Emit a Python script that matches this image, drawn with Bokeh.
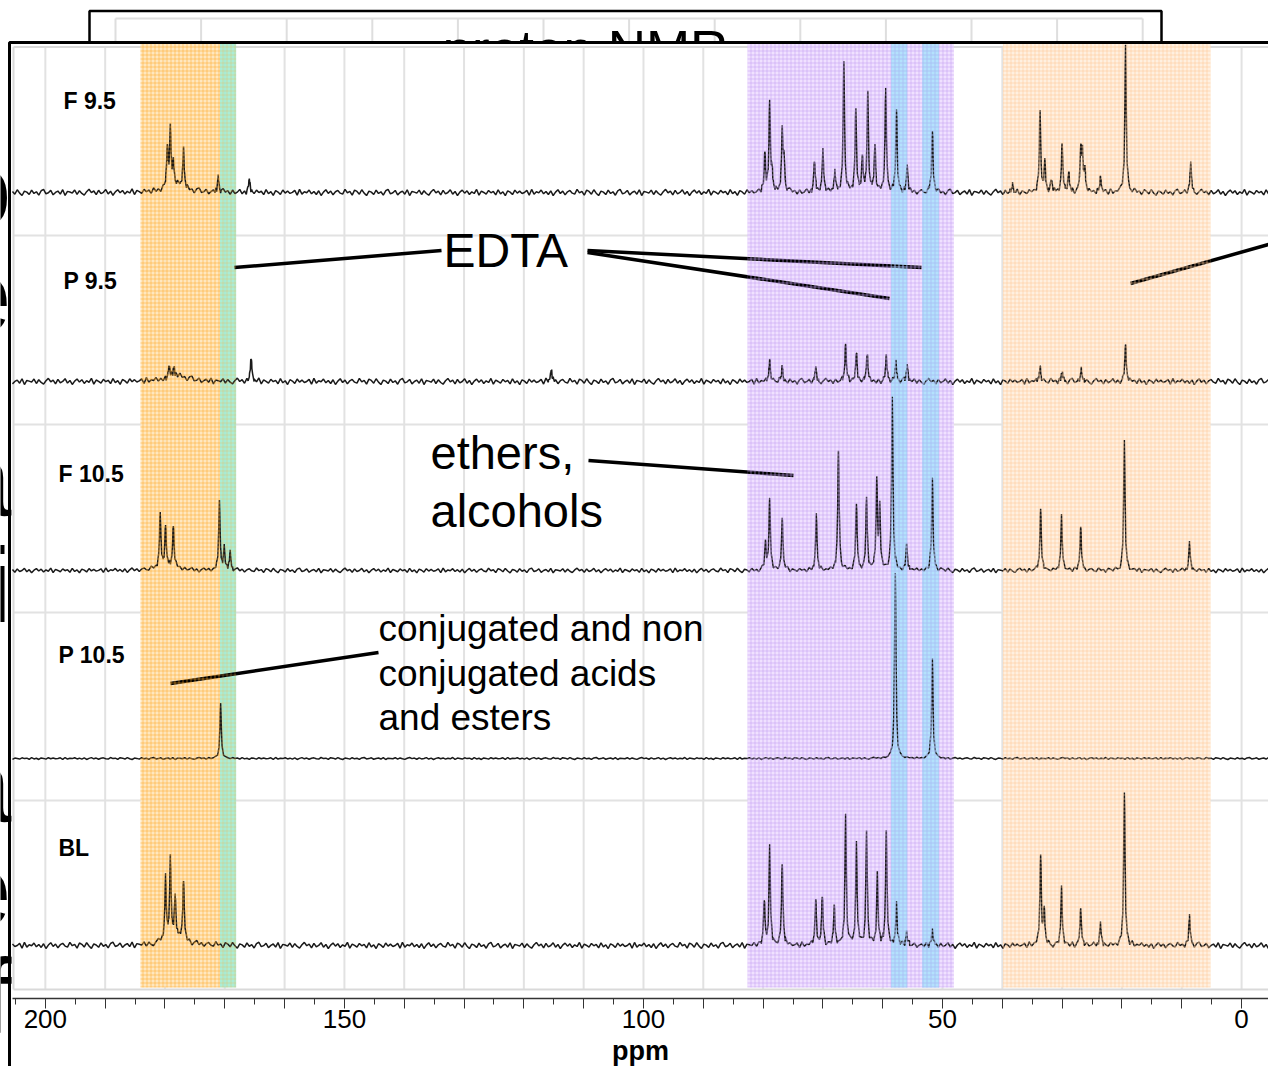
import numpy as np
from bokeh.plotting import figure
from bokeh.models import Range1d, FixedTicker, LinearAxis
from bokeh.core.properties import value
from bokeh.embed import file_html
from bokeh.resources import INLINE

# ---------------- data ----------------
SAMPLES = ["F 9.5", "P 9.5", "F 10.5", "P 10.5", "BL"]
LABELED_TICKS = [200, 150, 100, 50, 0]
MAJOR_TICKS = list(range(0, 201, 10))
MINOR_TICKS = list(range(0, 206, 5))

# peak lists: chemical shift (ppm) and height (px)
F95_PPM = [179.6, 179.1, 178.6, 176.9, 171.1, 165.9,
           79.7, 78.9, 78.5, 76.8, 76.5, 71.4, 70.0, 68.0, 66.5, 64.5, 63.4, 62.5, 61.3, 59.5, 57.7, 55.9, 51.7,
           38.3, 33.7, 32.9, 31.8, 30.0, 28.9, 26.9, 26.6, 26.2, 23.6, 19.4, 8.5]
F95_H = [40, 56, 22, 38, 15, 13,
         39, 90, 17, 59, 30, 32, 41, 19, 129, 83, 34, 97, 46, 102, 84, 26, 63,
         8, 81, 31, 12, 49, 20, 42, 35, 21, 16, 145, 30]
F95_HUMP_PPM = [178.3]
F95_HUMP_H = [7]

P95_PPM = [179.3, 178.5, 165.6, 115.4,
           78.9, 76.8, 71.2, 66.2, 64.4, 62.6, 59.4, 57.8, 55.9,
           33.7, 30.0, 26.8, 19.4]
P95_H = [12, 8, 25, 12,
         22, 15, 14, 38, 30, 28, 25, 20, 16,
         15, 10, 12, 38]
P95_HUMP_PPM = [178.0]
P95_HUMP_H = [6]

F105_PPM = [180.8, 179.9, 178.6, 170.9, 170.1, 169.1,
            79.6, 78.9, 76.8, 71.1, 67.4, 64.4, 62.7, 61.0, 60.5, 58.4, 56.0, 51.7,
            33.6, 30.1, 26.9, 19.6, 8.7]
F105_H = [55, 40, 42, 68, 22, 18,
          28, 72, 52, 55, 120, 68, 72, 88, 60, 173, 25, 92,
          62, 55, 45, 130, 28]
F105_HUMP_PPM = [179.5]
F105_HUMP_H = [4]

P105_PPM = [170.7, 57.9, 51.7]
P105_H = [55, 185, 100]
P105_HUMP_PPM = []
P105_HUMP_H = []

BL_PPM = [179.9, 179.1, 178.3, 176.9,
          79.8, 78.9, 76.8, 71.2, 70.1, 68.1, 66.2, 64.4, 62.7, 60.9, 59.4, 57.7, 56.0, 51.7,
          33.6, 33.0, 30.1, 26.9, 23.6, 19.6, 8.7]
BL_H = [62, 78, 40, 60,
        45, 98, 82, 45, 50, 38, 128, 100, 112, 70, 113, 40, 12, 15,
        92, 35, 58, 38, 22, 155, 30]
BL_HUMP_PPM = [178.3]
BL_HUMP_H = [8]

# hand-read baseline wiggle pattern (relative units)
NOISE = [0.3, -0.5, 0.8, -0.2, -0.9, 0.4, 0.1, -0.6, 0.7, -0.3, 0.2, -0.8, 0.5, 0.9, -0.4, -0.1, 0.6, -0.7,
         0.0, 0.4, -0.5, 0.8, -0.9, 0.3, 0.1, -0.2, 0.7, -0.6, 0.5, -0.3, -0.8, 0.2, 0.9, -0.1, 0.4, -0.7,
         0.6, -0.4, 0.0, 0.8, -0.5, 0.3, -0.9, 0.1, 0.7, -0.2, 0.5, -0.6, 0.2, -0.3, 0.9, -0.8, 0.4, 0.0,
         -0.5, 0.6, -0.1, 0.3, -0.7, 0.8, -0.4, 0.2, -0.9, 0.5, 0.1, -0.6, 0.7, -0.2, 0.4, -0.3, 0.0, 0.6,
         -0.8, 0.9, -0.5, 0.2, -0.1, 0.7, -0.4, 0.3, -0.6, 0.5, -0.9, 0.1, 0.8, -0.3, 0.4, -0.7, 0.2, 0.6,
         -0.2, -0.5, 0.9, -0.1, 0.3, -0.8, 0.7]

# shaded assignment regions (ppm from, ppm to, fill, hatch, hatch alpha)
REGIONS = [
    (184.1, 170.8, "#FFE4B8", "#FFA622", 0.5),
    (170.8, 168.1, "#A2EBD2", "#F2B24A", 0.3),
    (82.6, 48.1, "#EEDEFF", "#C4A0F2", 0.55),
    (58.6, 55.9, "#ACE2FC", "#98D6F6", 0.5),
    (53.4, 50.6, "#ACE2FC", "#98D6F6", 0.5),
    (39.9, 5.2, "#FFEEDD", "#FFC894", 0.55),
]

# ---------------- layout helpers ----------------
W, H = 1268, 1066
X0, X1 = 207.5, -4.5


def X(px):
    return X0 - px * (X0 - X1) / W


BASE = [192, 381, 570, 758, 945]
AMP = [3.4, 3.4, 2.6, 1.1, 3.4]
SEPS = [235, 424, 612, 800]

p = figure(width=W, height=H, x_range=Range1d(X0, X1), y_range=Range1d(H, 0),
           x_axis_type=None, y_axis_type=None, toolbar_location=None,
           output_backend="svg", min_border=0, outline_line_color=None)
p.background_fill_color = "white"
p.border_fill_color = "white"

FONT = value("Liberation Sans")

# ---- background slide box (partly hidden) ----
back_grid = [115 + i * 85.6 for i in range(13)]
p.segment(x0=[X(v) for v in back_grid], y0=[18] * 13, x1=[X(v) for v in back_grid], y1=[60] * 13,
          line_color="#dedede", line_width=2)
p.segment(x0=[X(115)], y0=[18], x1=[X(1142)], y1=[18], line_color="#dedede", line_width=2)
p.text(x=[X(585)], y=[49], text=["proton NMR"], text_font=FONT, text_font_size="53px",
       text_align="center", text_baseline="middle", text_color="black")
p.line(x=[X(89), X(89), X(1161), X(1161)], y=[60, 10.5, 10.5, 60], line_color="black", line_width=2.5)

# main white panel hiding the slide behind
p.quad(left=[X(9)], right=[X(1280)], top=[42], bottom=[H + 5], fill_color="white", line_color=None)

# letters of slide text peeking out on the left
p.text(x=[X(11)] * 7, y=[189, 295, 479, 585, 785, 889, 996], text=["o", "e", "a", "i", "a", "e", "f"],
       text_font=FONT, text_font_size="105px", text_align="right", text_baseline="middle",
       text_color="black")

# ---- plot-area grid ----
p.segment(x0=MAJOR_TICKS, y0=[47] * len(MAJOR_TICKS), x1=MAJOR_TICKS, y1=[989] * len(MAJOR_TICKS),
          line_color="#e2e2e2", line_width=2)
p.segment(x0=[X(13)] * len(SEPS), y0=SEPS, x1=[X(1275)] * len(SEPS), y1=SEPS,
          line_color="#e2e2e2", line_width=2)
p.segment(x0=[X(13), X(13), X(13)], y0=[46.5, 989, 46.5], x1=[X(1275), X(1275), X(13)], y1=[46.5, 989, 989],
          line_color="#d9d9d9", line_width=2)

# ---- shaded regions (fill under the traces) ----
for a, b, fc, hc, ha in REGIONS:
    p.quad(left=[a], right=[b], top=[43], bottom=[987], fill_color=fc, fill_alpha=0.9,
           line_color=None)


# ---- spectra ----
def spectrum(ppms, hs, hump_p, hump_h, base, amp, shift):
    gw = 0.14
    coarse = np.arange(205.5, -4.51, -0.4)
    fine = []
    for c in ppms:
        fine.extend([c - 0.5, c - 0.26, c - 0.13, c - 0.06, c, c + 0.06, c + 0.13, c + 0.26, c + 0.5])
    x = np.unique(np.concatenate([coarse, np.array(fine)]))[::-1]
    y = np.zeros_like(x)
    for c, h in zip(ppms, hs):
        y += h / (1 + ((x - c) / gw) ** 2)
    for c, h in zip(hump_p, hump_h):
        y += h / (1 + ((x - c) / 2.0) ** 2)
    n = np.array([NOISE[(i + shift) % len(NOISE)] for i in range(len(x))])
    return x, base - y - amp * n


SPECS = [(F95_PPM, F95_H, F95_HUMP_PPM, F95_HUMP_H),
         (P95_PPM, P95_H, P95_HUMP_PPM, P95_HUMP_H),
         (F105_PPM, F105_H, F105_HUMP_PPM, F105_HUMP_H),
         (P105_PPM, P105_H, P105_HUMP_PPM, P105_HUMP_H),
         (BL_PPM, BL_H, BL_HUMP_PPM, BL_HUMP_H)]
for k, (pp, hh, hp, hhh) in enumerate(SPECS):
    xs, ys = spectrum(pp, hh, hp, hhh, BASE[k], AMP[k], 17 * k)
    p.line(xs, ys, line_color="#1a1a1a", line_width=1.5)

# ---- annotation leader lines ----
LEADERS = [((234, 267), (441, 250)), ((587, 250), (921, 267)), ((587, 252), (889, 298)),
           ((1130, 283), (1275, 242)), ((588, 460), (793, 475)), ((170, 683), (378, 652))]
p.segment(x0=[X(a[0]) for a, b in LEADERS], y0=[a[1] for a, b in LEADERS],
          x1=[X(b[0]) for a, b in LEADERS], y1=[b[1] for a, b in LEADERS],
          line_color="black", line_width=3.5)

# ---- hatch texture over the shaded regions ----
for a, b, fc, hc, ha in REGIONS:
    p.quad(left=[a], right=[b], top=[43], bottom=[987], fill_alpha=0,
           hatch_pattern="+", hatch_color=hc, hatch_alpha=ha, hatch_scale=4, hatch_weight=1,
           line_color=None)

# ---- texts ----
p.text(x=[X(443)], y=[250], text=["EDTA"], text_font=FONT, text_font_size="48px",
       text_baseline="middle", text_color="black")
p.text(x=[X(430)] * 2, y=[452, 510], text=["ethers,", "alcohols"], text_font=FONT, text_font_size="47px",
       text_baseline="middle", text_color="black")
p.text(x=[X(378)] * 3, y=[628, 673, 717], text=["conjugated and non", "conjugated acids", "and esters"],
       text_font=FONT, text_font_size="37px", text_baseline="middle", text_color="black")

p.text(x=[X(63), X(63), X(58), X(58), X(58)], y=[100, 280, 473, 654, 847], text=SAMPLES,
       text_font=FONT, text_font_size="23px", text_font_style="bold", text_baseline="middle",
       text_color="black")

# ---- main frame border ----
p.line(x=[X(9), X(9), X(1280)], y=[H + 5, 42, 42], line_color="black", line_width=3)

# ---- ppm axis ----
ax = LinearAxis(fixed_location=998, bounds=(X(12), X1))
ax.ticker = FixedTicker(ticks=MAJOR_TICKS, minor_ticks=MINOR_TICKS)
ax.major_label_overrides = {t: (str(t) if t in LABELED_TICKS else "") for t in MAJOR_TICKS}
ax.axis_line_color = "#333333"
ax.axis_line_width = 1.5
ax.major_tick_line_color = "#333333"
ax.minor_tick_line_color = "#333333"
ax.major_tick_out = 10
ax.major_tick_in = 0
ax.minor_tick_out = 6
ax.minor_tick_in = 0
ax.major_label_standoff = 1
ax.major_label_text_font = "Liberation Sans"
ax.major_label_text_font_size = "26px"
ax.major_label_text_color = "black"
ax.axis_label = "ppm"
ax.axis_label_text_font = "Liberation Sans"
ax.axis_label_text_font_size = "27px"
ax.axis_label_text_font_style = "bold"
ax.axis_label_text_color = "black"
ax.axis_label_standoff = 5
p.add_layout(ax, "below")

open("out.html", "w").write(file_html(p, INLINE))
